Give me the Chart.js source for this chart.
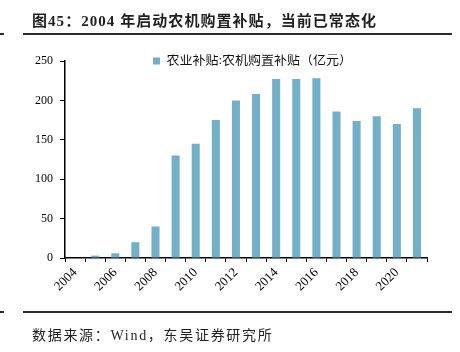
<!DOCTYPE html>
<html><head><meta charset="utf-8">
<script src="https://cdn.jsdelivr.net/npm/chart.js@4.4.1/dist/chart.umd.min.js"></script>
<style>
html,body{margin:0;padding:0;background:#fff;}
#wrap{position:relative;width:460px;height:352px;overflow:hidden;background:#fff;}
#c{position:absolute;left:0;top:0;}
.title{position:absolute;left:32px;top:9px;font:bold 15px "Liberation Serif","Noto Sans CJK SC";color:#1f1f1f;white-space:nowrap;letter-spacing:1.05px;}
.rule{position:absolute;height:2px;background:#2b2b2b;}
.src{position:absolute;left:32px;top:324px;font:14px "Liberation Serif","Noto Sans CJK SC";color:#1f1f1f;white-space:nowrap;letter-spacing:1.7px;}
</style></head>
<body><div id="wrap">
<canvas id="c" width="460" height="352"></canvas>
<div class="title">图45：2004 年启动农机购置补贴，当前已常态化</div>
<div class="rule" style="left:0;top:33px;width:4px"></div>
<div class="rule" style="left:23px;top:33px;width:429px"></div>
<div class="rule" style="left:0;top:311px;width:4px"></div>
<div class="rule" style="left:23px;top:311px;width:429px"></div>
<div class="src">数据来源：Wind，东吴证券研究所</div>
</div>
<script>
const years = ['2004','2005','2006','2007','2008','2009','2010','2011','2012','2013','2014','2015','2016','2017','2018','2019','2020','2021'];
const subsidy = [0,3,6,20,40,130,145,175,200,208,227,227,228,186,174,180,170,190];
const seriesName = '农业补贴:农机购置补贴（亿元）';
const yMin = 0, yMax = 250, yStep = 50;

const FONT = '"Liberation Serif","Noto Sans CJK SC"';

const legendPlacer = {
  id: 'legendPlacer',
  afterLayout(chart) {
    const lg = chart.legend;
    if (!lg) return;
    const w = lg.width, h = lg.height;
    lg.left = 153; lg.right = 153 + w;
    lg.top = 54.5; lg.bottom = 54.5 + h;
  }
};

new Chart(document.getElementById('c'), {
  type: 'bar',
  data: {
    labels: years,
    datasets: [{
      label: seriesName,
      data: subsidy,
      backgroundColor: '#73afc8',
      borderWidth: 0,
      barPercentage: 0.4,
      categoryPercentage: 1.0
    }]
  },
  options: {
    responsive: false,
    animation: false,
    layout: { padding: { left: 0, right: 33, top: 61, bottom: 0 } },
    plugins: {
      legend: {
        position: 'chartArea',
        align: 'start',
        labels: { boxWidth: 7, boxHeight: 7, padding: 0, color: '#111', font: { family: FONT, size: 13 } }
      },
      tooltip: { enabled: false }
    },
    scales: {
      x: {
        grid: { display: true, drawOnChartArea: false, offset: true, tickLength: 4, color: '#000', tickColor: '#000' },
        border: { display: true, color: '#000', width: 1.5 },
        ticks: {
          color: '#000', font: { family: FONT, size: 13 },
          maxRotation: 45, minRotation: 45, autoSkip: false, padding: 3,
          callback: function(v, i) { return i % 2 === 0 ? this.getLabelForValue(v) : ''; }
        },
        afterFit(s) { s.height = 94; }
      },
      y: {
        min: yMin, max: yMax,
        grid: { display: true, drawOnChartArea: false, tickLength: 5, color: '#000', tickColor: '#000' },
        border: { display: true, color: '#000', width: 1.5 },
        ticks: { stepSize: yStep, color: '#000', padding: 7, font: { family: FONT, size: 12 } },
        afterFit(s) { s.width = 65; }
      }
    }
  },
  plugins: [legendPlacer]
});
</script>
</body></html>
